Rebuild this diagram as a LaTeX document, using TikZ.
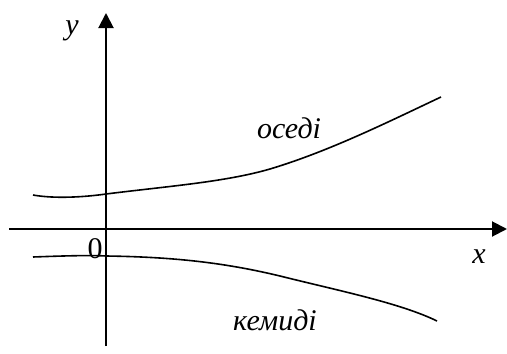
\documentclass[tikz,border=0pt]{standalone}
\usepackage{fontspec}
\setmainfont{Liberation Serif}[ItalicFont={Liberation Serif Italic}]
\usetikzlibrary{arrows.meta}
\begin{document}
\begin{tikzpicture}[x=1pt,y=-1pt,
  axis/.style={line width=2pt,-{Triangle[length=15pt,width=15pt]}},
  curve/.style={line width=1.6pt},
  lbl/.style={anchor=base,inner sep=0pt,font=\fontsize{30}{30}\selectfont\itshape}]
\useasboundingbox (0,0) rectangle (507,354);
\coordinate (xs) at (9,229);
\coordinate (xe) at (507,229);
\coordinate (ys) at (106,346);
\coordinate (ye) at (106,13);
\draw[axis] (xs) -- (xe);
\draw[axis] (ys) -- (ye);
\draw[curve] (33,195) .. controls (55,199) and (85,197) .. (106,194)
  .. controls (170,186) and (225,182) .. (270,169)
  .. controls (330,151) and (390,121) .. (441,97);
\draw[curve] (33,257) .. controls (60,256) and (90,255) .. (106,256)
  .. controls (180,257) and (230,264) .. (280,276)
  .. controls (340,291) and (400,303) .. (437,321);
\node[lbl] (ly) at (72,34) {y};
\node[lbl] (lx) at (479,263) {x};
\node[lbl,font=\fontsize{30}{30}\selectfont] (l0) at (95,258) {0};
\node[lbl] (up) at (289,138) {оседі};
\node[lbl] (dn) at (275,330) {кемиді};
\end{tikzpicture}
\end{document}
